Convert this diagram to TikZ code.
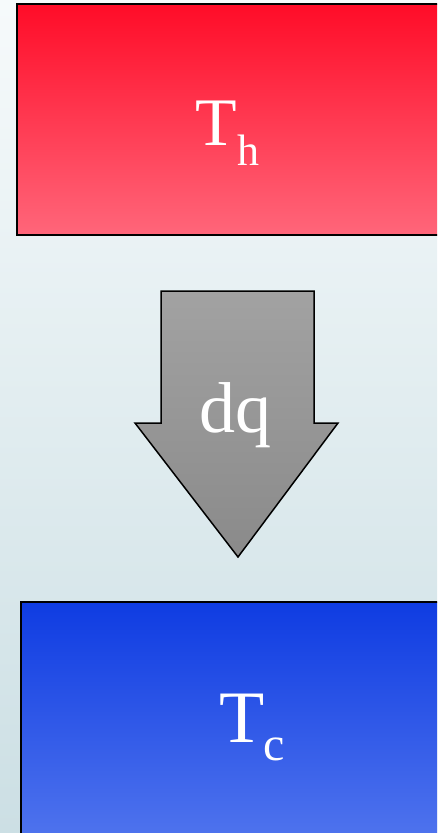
\documentclass[tikz,border=0pt]{standalone}
\usepackage{fontspec}
\setmainfont{Liberation Serif}

\definecolor{bgtop}{RGB}{246,250,251}
\definecolor{bgbot}{RGB}{204,223,228}
\definecolor{hottop}{RGB}{255,12,40}
\definecolor{hotbot}{RGB}{255,102,122}
\definecolor{coldtop}{RGB}{15,60,226}
\definecolor{coldbot}{RGB}{82,118,238}
\definecolor{flowtop}{RGB}{162,162,162}
\definecolor{flowbot}{RGB}{138,138,138}

\begin{document}
\begin{tikzpicture}[x=1pt, y=-1pt,
    reservoir/.style={draw=black, line width=2.6pt},
    lbl/.style={text=white, inner sep=0pt, anchor=base west}]
  \useasboundingbox (0,0) rectangle (437,833);
  \clip (0,0) rectangle (437,833);
  \shade[top color=bgtop, bottom color=bgbot] (0,0) rectangle (437,833);

  \coordinate (hotNW)  at (17, 4);
  \coordinate (hotSE)  at (445, 235);
  \coordinate (coldNW) at (21, 602);
  \coordinate (coldSE) at (480, 850);

  % reservoirs
  \shade[top color=hottop, bottom color=hotbot] (hotNW) rectangle (hotSE);
  \draw[reservoir] (hotNW) rectangle (hotSE);
  \shade[top color=coldtop, bottom color=coldbot] (coldNW) rectangle (coldSE);
  \draw[reservoir] (coldNW) rectangle (coldSE);

  % heat flow arrow
  \draw[line width=1.5pt, line join=miter, top color=flowtop, bottom color=flowbot]
    (161,291) -- (314,291) -- (314,423) -- (338,423) -- (238,557)
    -- (135,423) -- (161,423) -- cycle;

  \node[lbl] (Th) at (195,145)
    {\fontsize{68}{68}\selectfont T\kern1pt\raisebox{-20pt}{\fontsize{44}{44}\selectfont h}};
  \node[lbl] (dq) at (199,432) {\fontsize{72}{72}\selectfont dq};
  \node[lbl] (Tc) at (219,742)
    {\fontsize{74}{74}\selectfont T\kern-1pt\raisebox{-18pt}{\fontsize{48}{48}\selectfont c}};
\end{tikzpicture}
\end{document}
